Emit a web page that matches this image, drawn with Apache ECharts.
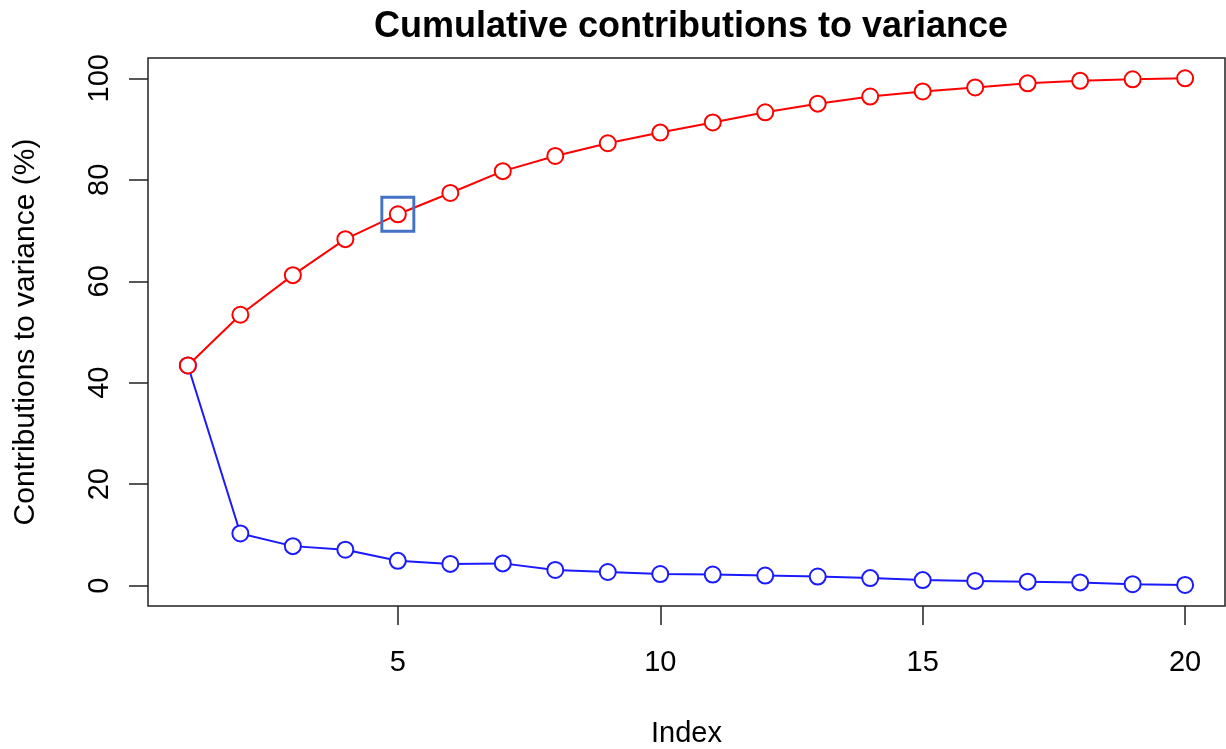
<!DOCTYPE html>
<html>
<head>
<meta charset="utf-8">
<title>Cumulative contributions to variance</title>
<script src="https://cdn.jsdelivr.net/npm/echarts@6/dist/echarts.min.js"></script>
<style>
  html, body { margin: 0; padding: 0; background: #fff; }
  #chart { width: 1226px; height: 749px; }
</style>
</head>
<body>
<div id="chart"></div>
<script>
// values
const indexes = [1, 2, 3, 4, 5, 6, 7, 8, 9, 10, 11, 12, 13, 14, 15, 16, 17, 18, 19, 20];
const cumulative = [43.4, 53.4, 61.2, 68.3, 73.2, 77.4, 81.7, 84.7, 87.2, 89.3,
                    91.3, 93.3, 95.0, 96.4, 97.4, 98.2, 99.0, 99.5, 99.8, 100];
const individual = [43.4, 10.3, 7.8, 7.1, 4.9, 4.3, 4.4, 3.1, 2.7, 2.3,
                    2.2, 2.0, 1.8, 1.5, 1.1, 0.95, 0.8, 0.65, 0.3, 0.15];
const xTicks = [5, 10, 15, 20];
const yTicks = [0, 20, 40, 60, 80, 100];
const highlightIndex = 5;

const font = "'Liberation Sans', Arial, Helvetica, sans-serif";

const pairs = (ys) => indexes.map((x, i) => [x, ys[i]]);

const chart = echarts.init(document.getElementById("chart"), null, { renderer: "canvas" });

chart.setOption({
  animation: false,
  backgroundColor: "#fff",
  textStyle: { fontFamily: font, color: "#000" },
  title: {
    text: "Cumulative contributions to variance",
    left: 686,
    top: 4,
    textAlign: "center",
    textStyle: { fontFamily: font, fontSize: 36, fontWeight: "bold", color: "#000" },
  },
  grid: {
    left: 148, right: 1, top: 58, bottom: 143,
    outerBoundsMode: "none",
    containLabel: false,
    show: true, borderColor: "#222", borderWidth: 1.5, backgroundColor: "transparent",
  },
  xAxis: {
    type: "value",
    min: 0.24, max: 20.76,
    name: "Index",
    nameLocation: "middle",
    nameGap: 113,
    nameTextStyle: { fontFamily: font, fontSize: 29, color: "#000" },
    axisLine: { show: false, onZero: false },
    splitLine: { show: false },
    axisTick: {
      show: true, inside: false, length: 19, customValues: xTicks,
      lineStyle: { color: "#222", width: 1.5 },
    },
    axisLabel: {
      customValues: xTicks, margin: 42,
      fontFamily: font, fontSize: 29, color: "#000",
    },
  },
  yAxis: {
    type: "value",
    min: -4, max: 104,
    name: "Contributions to variance (%)",
    nameLocation: "middle",
    nameGap: 107,
    nameTextStyle: { fontFamily: font, fontSize: 30, color: "#000" },
    axisLine: { show: false, onZero: false },
    splitLine: { show: false },
    axisTick: {
      show: true, inside: false, length: 19, customValues: yTicks,
      lineStyle: { color: "#222", width: 1.5 },
    },
    axisLabel: {
      customValues: yTicks, rotate: 90, margin: 34,
      fontFamily: font, fontSize: 29, color: "#000",
    },
  },
  series: [
    {
      name: "individual",
      type: "line",
      data: pairs(individual),
      symbol: "emptyCircle",
      symbolSize: 16,
      lineStyle: { color: "#1a1aff", width: 2 },
      itemStyle: { color: "#1a1aff", borderColor: "#1a1aff", borderWidth: 2 },
      z: 2,
    },
    {
      name: "cumulative",
      type: "line",
      data: pairs(cumulative),
      symbol: "emptyCircle",
      symbolSize: 16,
      lineStyle: { color: "#ff0000", width: 2 },
      itemStyle: { color: "#ff0000", borderColor: "#ff0000", borderWidth: 2 },
      z: 3,
    },
    {
      name: "highlight",
      type: "scatter",
      data: [[highlightIndex, cumulative[highlightIndex - 1]]],
      symbol: "rect",
      symbolSize: [32, 34],
      itemStyle: { color: "rgba(0,0,0,0)", borderColor: "#4472c4", borderWidth: 3, opacity: 1 },
      z: 4,
    },
  ],
});
</script>
</body>
</html>
